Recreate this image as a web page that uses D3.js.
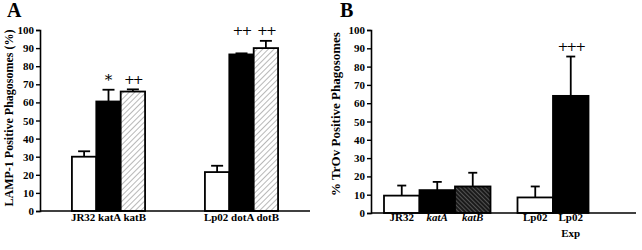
<!DOCTYPE html>
<html>
<head>
<meta charset="utf-8">
<script src="https://cdn.jsdelivr.net/npm/d3@7"></script>
<style>
  body { margin: 0; background: #fff; }
  text { font-family: "Liberation Serif", "Times New Roman", serif; font-weight: bold; fill: #000; }
</style>
</head>
<body>
<div id="chart"></div>
<script>
// ---- data ----
var aGroups = ["JR32 katA katB", "Lp02 dotA dotB"];
var aSeries = ["wt", "mutA", "mutB"];
var aValues = [[30, 60.5, 66], [21.5, 86.5, 90]];
var aErrors = [[3, 6.5, 1.2], [3.5, 0.6, 4]];
var aMarks = [["", "*", "++"], ["", "++", "++"]];

var bCats = ["JR32", "katA", "katB", "Lp02", "Lp02 Exp"];
var bItalic = [false, true, true, false, false];
var bFills = ["white", "black", "hatchB", "white", "black"];
var bValues = [9.5, 12.5, 14.5, 8.5, 64];
var bErrors = [5.5, 4.5, 7.5, 6, 21.5];
var bMarks = ["", "", "", "", "+++"];

var yTicks = d3.range(0, 101, 10);

var W = 642, H = 250;
var svg = d3.select("#chart").append("svg")
    .attr("width", W).attr("height", H);

var defs = svg.append("defs");
// light diagonal hatch (panel A)
var pA = defs.append("pattern").attr("id", "hatchA")
    .attr("patternUnits", "userSpaceOnUse").attr("width", 4).attr("height", 4)
    .attr("patternTransform", "rotate(45)");
pA.append("rect").attr("width", 4).attr("height", 4).attr("fill", "white");
pA.append("line").attr("x1", 0).attr("y1", 0).attr("x2", 0).attr("y2", 4)
    .attr("stroke", "#888").attr("stroke-width", 1.2);
// dark hatch (panel B)
var pB = defs.append("pattern").attr("id", "hatchB")
    .attr("patternUnits", "userSpaceOnUse").attr("width", 3).attr("height", 3)
    .attr("patternTransform", "rotate(-45)");
pB.append("rect").attr("width", 3).attr("height", 3).attr("fill", "#1a1a1a");
pB.append("line").attr("x1", 0).attr("y1", 0).attr("x2", 0).attr("y2", 3)
    .attr("stroke", "#9a9a9a").attr("stroke-width", 0.9);

function fillOf(k) {
    if (k == "hatchA" || k == "hatchB") return "url(#" + k + ")";
    return k;
}

function drawYAxis(g, y, x0) {
    var ax = g.append("g").attr("transform", "translate(" + x0 + ",0)")
        .call(d3.axisLeft(y).tickValues(yTicks).tickSize(4).tickPadding(2));
    ax.select(".domain").attr("stroke-width", 1.6);
    ax.selectAll(".tick line").attr("stroke-width", 1.4);
    ax.selectAll("text").style("font-size", "11px").attr("fill", "black")
        .style("font-family", "Liberation Serif").style("font-weight", "bold");
}

function errorBar(g, x, yTop, yBar, cap) {
    g.append("line").attr("x1", x).attr("x2", x).attr("y1", yBar).attr("y2", yTop)
        .attr("stroke", "black").attr("stroke-width", 1.8);
    g.append("line").attr("x1", x - cap / 2).attr("x2", x + cap / 2).attr("y1", yTop).attr("y2", yTop)
        .attr("stroke", "black").attr("stroke-width", 1.8);
}

function mark(g, cx, y, s) {
    g.append("text").attr("x", cx).attr("y", y)
        .attr("text-anchor", "middle").attr("dy", "0.35em")
        .attr("fill", "black")
        .style("font-family", "DejaVu Serif")
        .style("font-size", s == "*" ? "15px" : "13px")
        .style("letter-spacing", s == "*" ? "0" : "-2px")
        .style("font-weight", "normal")
        .text(s);
}

// ---------------- Panel A ----------------
var gA = svg.append("g");
var yA = d3.scaleLinear().domain([0, 100]).range([211, 30]);
var xA = d3.scaleBand().domain(aGroups).range([40, 310])
    .paddingInner(0.45).paddingOuter(0.24);
var xAin = d3.scaleBand().domain(aSeries).range([0, xA.bandwidth()]);
var aFills = ["white", "black", "hatchA"];

aGroups.forEach(function (grp, gi) {
    var topMax = d3.max(aValues[gi].map(function (v, i) { return v + aErrors[gi][i]; }));
    aSeries.forEach(function (s, si) {
        var x = xA(grp) + xAin(s);
        var v = aValues[gi][si];
        var cx = x + xAin.bandwidth() / 2;
        errorBar(gA, cx, yA(v + aErrors[gi][si]), yA(v), 12);
        gA.append("rect")
            .attr("x", x).attr("y", yA(v))
            .attr("width", xAin.bandwidth()).attr("height", yA(0) - yA(v))
            .attr("fill", fillOf(aFills[si]))
            .attr("stroke", "black").attr("stroke-width", 1.8);
        if (aMarks[gi][si]) mark(gA, cx, yA(topMax) - 10, aMarks[gi][si]);
    });
    gA.append("text").attr("x", xA(grp) + xA.bandwidth() / 2).attr("y", 221)
        .attr("text-anchor", "middle").style("font-size", "11px").text(grp);
});

gA.append("line").attr("x1", 40).attr("x2", 310).attr("y1", yA(0)).attr("y2", yA(0))
    .attr("stroke", "black").attr("stroke-width", 1.6);
drawYAxis(gA, yA, 40);

gA.append("text").attr("transform", "translate(13," + 118 + ") rotate(-90)")
    .attr("text-anchor", "middle").style("font-size", "12px")
    .text("LAMP-1 Positive Phagosomes (%)");
gA.append("text").attr("x", 7).attr("y", 17).style("font-size", "20px").text("A");

// ---------------- Panel B ----------------
var gB = svg.append("g");
var yB = d3.scaleLinear().domain([0, 100]).range([213, 30]);
var xB = d3.scaleBand().domain(bCats).range([384, 384 + 5 * 35.5]);
var gap = 27;
function bx(d, i) { return xB(d) + (i >= 3 ? gap : 0); }

bCats.forEach(function (c, i) {
    var x = bx(c, i), v = bValues[i];
    var cx = x + xB.bandwidth() / 2;
    errorBar(gB, cx, yB(v + bErrors[i]), yB(v), 9);
    gB.append("rect")
        .attr("x", x).attr("y", yB(v))
        .attr("width", xB.bandwidth()).attr("height", yB(0) - yB(v))
        .attr("fill", fillOf(bFills[i]))
        .attr("stroke", "black").attr("stroke-width", 1.8);
    if (bMarks[i]) mark(gB, cx, yB(v + bErrors[i]) - 10, bMarks[i]);
    var parts = c.split(" ");
    var t = gB.append("text").attr("x", cx).attr("y", 221)
        .attr("text-anchor", "middle").style("font-size", "11px")
        .style("font-style", bItalic[i] ? "italic" : "normal");
    parts.forEach(function (p, pi) {
        t.append("tspan").attr("x", cx).attr("dy", pi == 0 ? 0 : 16).text(p);
    });
});

gB.append("line").attr("x1", 371).attr("x2", 636).attr("y1", yB(0)).attr("y2", yB(0))
    .attr("stroke", "black").attr("stroke-width", 1.6);
drawYAxis(gB, yB, 371);

gB.append("text").attr("transform", "translate(340," + 114 + ") rotate(-90)")
    .attr("text-anchor", "middle").style("font-size", "13px")
    .text("% TrOv Positive Phagosomes");
gB.append("text").attr("x", 340).attr("y", 17).style("font-size", "20px").text("B");
</script>
</body>
</html>
